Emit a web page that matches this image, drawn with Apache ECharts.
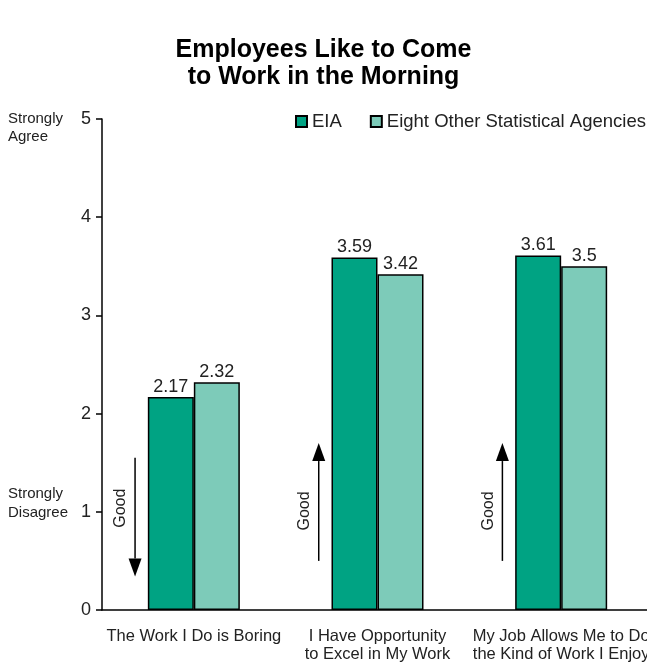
<!DOCTYPE html>
<html>
<head>
<meta charset="utf-8">
<script src="https://cdn.jsdelivr.net/npm/echarts@6/dist/echarts.min.js"></script>
<style>
  html, body { margin: 0; padding: 0; background: #fff; }
  #chart { width: 647px; height: 664px; }
</style>
</head>
<body>
<div id="chart"></div>
<script>
// Survey statements (x categories)
const categories = [
  'The Work I Do is Boring',
  'I Have Opportunity\nto Excel in My Work',
  'My Job Allows Me to Do\nthe Kind of Work I Enjoy'
];
// Mean scores per statement
const eiaScores = [2.17, 3.59, 3.61];
const otherScores = [2.32, 3.42, 3.5];
// "Good" direction arrows: [category index, tail value, head value]
const goodArrows = [
  [0, 1.55, 0.34],
  [1, 0.50, 1.70],
  [2, 0.50, 1.70]
];
const yTicks = [0, 1, 2, 3, 4, 5];

const FONT = 'Liberation Sans, Arial, sans-serif';
const TXT = '#222';

const chart = echarts.init(document.getElementById('chart'));

function renderArrow(params, api) {
  const band = api.size([1, 0])[0];
  const cx = api.coord([api.value(0), 0])[0] - band * 0.32;
  const yTail = api.coord([api.value(0), api.value(1)])[1];
  const yHead = api.coord([api.value(0), api.value(2)])[1];
  const dir = yHead > yTail ? 1 : -1;
  const headLen = 18, headHalf = 6.5;
  const yBase = yHead - dir * headLen;
  return {
    type: 'group',
    children: [
      { type: 'line', shape: { x1: cx, y1: yTail, x2: cx, y2: yBase },
        style: { stroke: '#000', lineWidth: 1.5 } },
      { type: 'polygon',
        shape: { points: [[cx - headHalf, yBase], [cx + headHalf, yBase], [cx, yHead]] },
        style: { fill: '#000' } },
      { type: 'text', x: cx - 14, y: (yTail + yBase) / 2, rotation: Math.PI / 2,
        style: { text: 'Good', fontFamily: FONT, fontSize: 16, fill: TXT,
                 align: 'center', verticalAlign: 'middle' } }
    ]
  };
}

chart.setOption({
  animation: false,
  backgroundColor: '#fff',
  title: {
    text: 'Employees Like to Come\nto Work in the Morning',
    left: 'center',
    top: 32,
    textStyle: { fontFamily: FONT, fontSize: 25, fontWeight: 'bold', color: '#000', lineHeight: 27 }
  },
  legend: {
    data: ['EIA', 'Eight Other Statistical Agencies'],
    left: 295,
    top: 112,
    padding: 0,
    width: 352,
    icon: 'rect',
    itemWidth: 11,
    itemHeight: 11,
    itemGap: 28,
    textStyle: { fontFamily: FONT, fontSize: 18.5, color: TXT }
  },
  graphic: [
    { type: 'text', left: 8, top: 110,
      style: { text: 'Strongly\nAgree', fontFamily: FONT, fontSize: 15, lineHeight: 18, fill: TXT } },
    { type: 'text', left: 8, top: 484,
      style: { text: 'Strongly\nDisagree', fontFamily: FONT, fontSize: 15, lineHeight: 19, fill: TXT } }
  ],
  grid: { left: 102, top: 119, bottom: 54, width: 551, outerBoundsMode: 'none', containLabel: false },
  xAxis: {
    type: 'category',
    data: categories,
    axisLine: { lineStyle: { color: '#000', width: 1.5 } },
    axisTick: { show: false },
    axisLabel: { fontFamily: FONT, fontSize: 16.5, color: TXT, lineHeight: 18, margin: 17, interval: 0 }
  },
  yAxis: {
    type: 'value',
    min: yTicks[0],
    max: yTicks[yTicks.length - 1],
    interval: 1,
    axisLine: { show: true, lineStyle: { color: '#000', width: 1.5 } },
    axisTick: { show: true, length: 6, lineStyle: { color: '#000', width: 1.5 } },
    splitLine: { show: false },
    axisLabel: { fontFamily: FONT, fontSize: 18, color: TXT, margin: 11 }
  },
  series: [
    {
      name: 'EIA',
      type: 'bar',
      data: eiaScores,
      barWidth: 46,
      barGap: '0%',
      itemStyle: { color: '#00a383', borderColor: '#000', borderWidth: 1.5 },
      label: { show: true, position: 'top', distance: 1, fontFamily: FONT, fontSize: 18, color: TXT }
    },
    {
      name: 'Eight Other Statistical Agencies',
      type: 'bar',
      data: otherScores,
      barWidth: 46,
      barGap: '0%',
      itemStyle: { color: '#7dcbb9', borderColor: '#000', borderWidth: 1.5 },
      label: { show: true, position: 'top', distance: 1, fontFamily: FONT, fontSize: 18, color: TXT }
    },
    {
      type: 'custom',
      name: 'good',
      data: goodArrows,
      renderItem: renderArrow,
      silent: true,
      z: 5
    }
  ]
});
</script>
</body>
</html>
